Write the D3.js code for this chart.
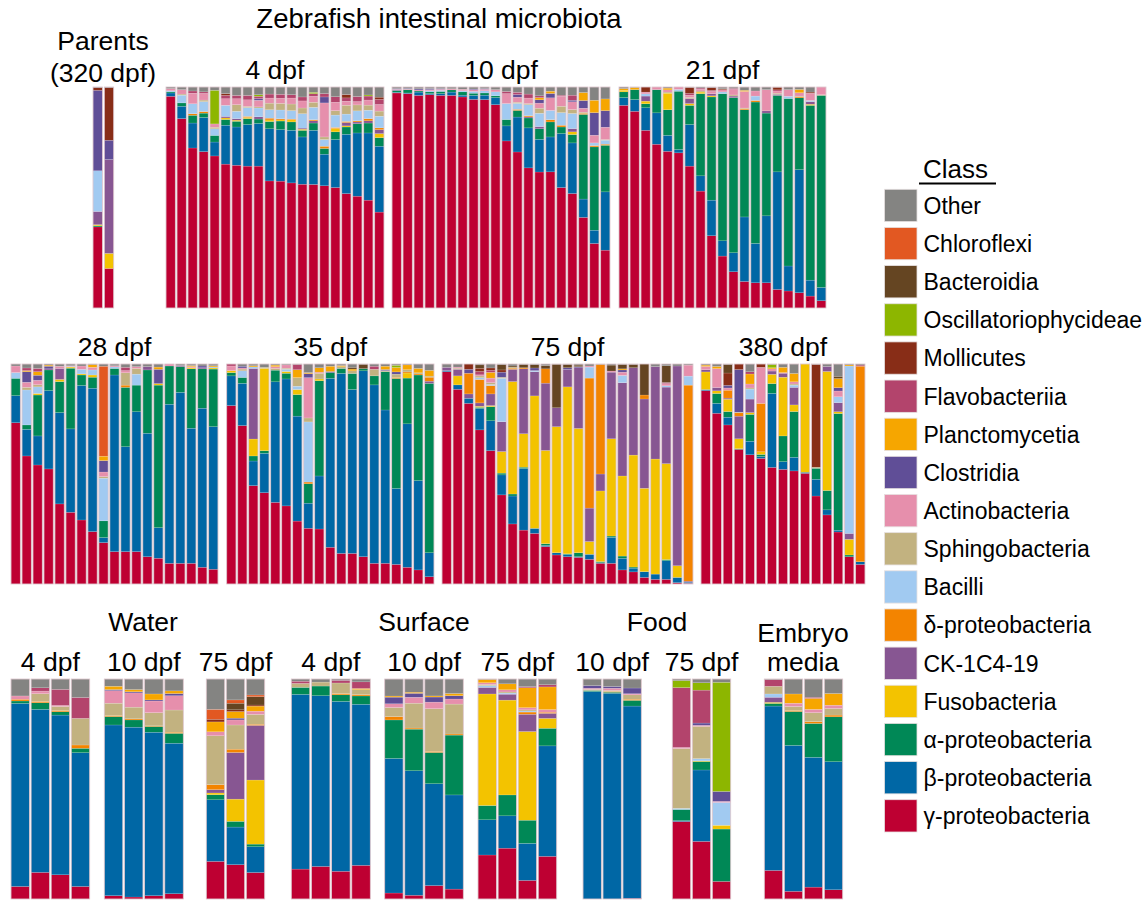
<!DOCTYPE html>
<html>
<head>
<meta charset="utf-8">
<script src="https://cdn.jsdelivr.net/npm/d3@7"></script>
<style>
  body { margin: 0; background: #fff; }
  text { font-family: Arial, "Liberation Sans", sans-serif; fill: #000; }
</style>
</head>
<body>
<svg id="chart" width="1146" height="900"></svg>
<script>
// Bacterial classes, stacked from the bottom of each bar upwards
const classes = ["γ-proteobacteria", "β-proteobacteria", "α-proteobacteria", "Fusobacteria",
  "CK-1C4-19", "δ-proteobacteria", "Bacilli", "Sphingobacteria", "Actinobacteria", "Clostridia",
  "Planctomycetia", "Flavobacteriia", "Mollicutes", "Oscillatoriophycideae", "Bacteroidia",
  "Chloroflexi", "Other"];
const classColors = ["#be0032", "#0067a5", "#008856", "#f3c300", "#875692", "#f38400", "#a1caf1",
  "#c2b280", "#e68fac", "#604e97", "#f6a600", "#b3446c", "#882d17", "#8db600", "#654522",
  "#e25822", "#848482"];

// Relative abundance (%) per sample, one row per bar, columns in class order
const parents = [
  [36.7,0,0.5,0.5,6,0,18.4,0,0,36.4,0,0,1.2,0,0,0,0.3],
  [17.9,0,0,6.8,42.5,0,0,0,0,8.7,0,0,23.8,0,0,0,0.3]
];
const gut4 = [
  [95.8,1.5,0.5,0,0,0,0.5,0,1,0,0,0,0,0,0,0,0.7],
  [85.7,5.6,1.5,0,0,0,3.5,0.5,2,0,0,0,0,0,0,0,1.2],
  [72.4,11.3,3.5,0,0,0.7,4.5,0,4.8,0,0,1,0,0,0,0,1.8],
  [70.6,15.4,2,0,0,0.7,4.5,0.7,3,0,0,0.7,0,0,0,0,2.2],
  [68.8,6.3,3,0,0,0,3,0.7,1.5,0,0,0,0,15.2,0,0,1.5],
  [65.1,17.6,2.6,0.7,0.7,0,5,0,3,0,0,1.5,0.8,0,0,0,3],
  [64.6,17.3,2.6,0.5,0.7,0,3.3,3,2.7,0,0,1.5,0,0,0,0,3.8],
  [64.2,18.8,2.7,0.5,0,0.5,4,0.5,3,0,0,2,0,0,0,0,3.8],
  [64.2,19.3,2,0,1,0,4,0.5,3,0.8,0,1,0,0.7,0,0,3.5],
  [57.5,23.6,3.3,0.7,0,0.8,3.8,3,2.3,0,0,1.8,0,0,0,0,3.2],
  [57.4,23.3,3.9,0.5,0,0.5,4,3,2.3,0,0,1.8,0,0,0,0,3.3],
  [56.6,23.8,3.8,1,0,0.3,3.8,3,2.7,0,0,1.5,0,0,0,0,3.5],
  [56,21.4,3,0.5,0.5,0,6.5,2.6,3.2,0,0,1.8,0,0,0,0,4.5],
  [55.9,24.5,3.3,0,1,0.5,5.6,2.3,2.7,0,0,1.2,0,0.6,0,0,2.4],
  [55.3,14.3,2.6,0,0,1,3,1.2,15.4,2.7,0,1.5,0,0,0,0,3],
  [54.5,21.7,3.5,1.5,0,0.5,5.6,2,3.8,0,0,2.5,0,0,0,0,4.4],
  [51.5,26.7,3.3,0.5,1.5,0.5,3.3,4,1.8,0,0,1.5,1.5,0,0,0,3.4],
  [50.6,28.6,4.2,0,0.8,0.5,4.5,2.7,1.5,0,0,2.3,0,0,0,0,4.3],
  [48.8,30.4,4.5,0,1,1,3.8,2.3,2.3,0,0,1.8,0,0.5,0,0,3.6],
  [43.4,29.8,3.9,1.8,1.8,0.8,5.3,2.3,3,0,0,2.3,1,0,0,0,4.6]
];
const gut10 = [
  [97.3,0.3,0.8,0,0.3,0,0,0,0.3,0.3,0,0,0,0,0,0,0.7],
  [97,0.3,1.5,0,0,0,0,0,0.3,0.3,0,0,0,0,0,0,0.6],
  [96.2,1.5,0.5,0,0,0,0,0,0.5,0.5,0,0,0,0,0,0,0.8],
  [96.5,0.5,0.8,0,0,0,0.5,0,0.5,0.5,0,0,0,0,0,0,0.7],
  [96.2,0.8,1,0,0,0,0.5,0,0.5,0.3,0,0,0,0,0,0,0.7],
  [96.2,1.5,1,0,0,0,0,0,0.5,0,0,0,0,0,0,0,0.8],
  [95.5,0.8,1.5,0,0,0,0.5,0,0.7,0,0,0,0,0,0,0,1],
  [94.4,1.8,1,0,0,0,0.8,0,0.8,0.3,0,0,0,0,0,0,0.9],
  [94.3,2,1,0,0,0,1,0,0.7,0.3,0,0,0,0,0,0,0.7],
  [92,3.2,0.8,0,0,0,1.8,0,1,0,0,0,0,0,0,0,1.2],
  [75.6,6.8,2.9,0,0,0,7.2,0,4.5,0,0,1,0,0,0,0,2],
  [70.6,15.8,3,0,0,0.5,2.7,0.5,2.3,1.2,0,1,0,0,0,0,2.4],
  [63.4,18.1,4.5,0,0.5,0.5,5,0.5,2.5,0,0,1.8,0,0,0,0,3.2],
  [61.6,14.8,4.8,0,1,0,6,2.3,2.3,1.5,1,0.8,0,0,0,0,4],
  [61.6,15.8,6.8,0,0,1,4.2,0,5.7,2,1,0,0,0,0,0,1.9],
  [54.5,24.4,3,0,0,0.8,5.7,2.9,4.5,0,0,0.5,0,0,0,0,3.7],
  [51.8,22.9,3.8,1.2,1.5,0,6.8,1.8,3.5,0.7,0,2.3,0,0,0,0,3.7],
  [41,8.3,38.3,0,0,0.5,0,0.5,1.8,3.5,3.6,0,0,0,0,0,2.5],
  [29.2,6,37.7,0,0,0.6,1.2,0,3.5,10.2,5.6,0,0,0,0,0,6],
  [26.2,26.4,21.1,0,0,0.5,1.8,0.3,5.6,7.5,5.3,0,0,0,0,0,5.4]
];
const gut21 = [
  [91.7,3.5,2.6,0.7,0,0,0,0,0,0,0.8,0,0,0,0,0,0.7],
  [89,5.3,4.5,0,0,0,0,0,0,0,1,0,0,0,0,0,0.2],
  [80.4,10.2,1.8,1.2,2.3,0,1,0,0.8,0,0,0,2.3,0,0,0,0],
  [74.1,14.2,10.5,0,0,0,0,0,1.2,0,0,0,0,0,0,0,0],
  [70.9,7.2,11.6,7.5,0,0,0,0.5,1,0,0.8,0,0,0,0,0,0.5],
  [70.2,1.5,26.4,0,0,0,0.8,0,1.1,0,0,0,0,0,0,0,0],
  [64.2,18.8,8.7,0.8,2.3,0,0,0.5,1,0,0,0.8,2.7,0,0,0,0.2],
  [52.9,6.9,37.2,0.7,0,0,0,0.5,0.8,0,0,0.5,0,0,0,0,0.5],
  [32.7,16.1,46.7,0.5,1,0,0,0,1,0,0,0.5,1.2,0,0,0,0.3],
  [23.5,6.9,66.6,0,0,0,0.8,0,1,0,0,0,0.4,0,0,0,0.8],
  [16.4,8.6,70.2,0,0.7,0,0,0.5,2.5,0,0,0.5,0,0,0,0,0.6],
  [12,29.2,48.5,0,0,0.5,0,0.3,7.5,0,0.5,0,0,0,0,0,1.5],
  [11.4,17.8,64,0,0,0.7,2,0,2.3,0,0,0,0,0,0,0,1.8],
  [11.4,30.3,46.5,0,1,0,0,0,9.6,0,0,0,0,0,0,0,1.2],
  [8.4,53.2,34.6,0,0.5,0,0,0.5,1,0,0,0.5,1.2,0,0,0,0.1],
  [7.7,11.3,75.8,0,0,0,1,0,3,0,0,0,0,0,0,0,1.2],
  [6.9,55.7,32.5,0,0,0.5,0,0.3,1.5,0,1.5,0,0,0,0,0,1.1],
  [5.4,7.2,79.1,0.5,1.2,0,0.5,0,3.3,0,0,0,0.5,0,0,0,2.3],
  [3.3,6,86.9,0,0,0,0,0.3,3.5,0,0,0,0,0,0,0,0]
];
const gut28 = [
  [73.3,12.3,7.9,0,0,0,2.6,0,3,0,0,0,0,0,0,0,0.9],
  [58.2,12.1,2,0,0,0,15.9,1.2,2.3,4.8,0.5,1.2,0,0,0,0,1.8],
  [54.1,13.2,18.6,0.7,0,0,3,1,2,2.3,1.6,1.5,0,0,0,0,2],
  [52.3,35.6,9.4,0,0.5,0,0,0,0,1.2,0.5,0,0,0,0,0,0.5],
  [36.4,41.5,14.1,1,5,0,0,0,1,0,0,0,0,0,0,0,1],
  [32.6,37.9,27.6,0.5,0,0,0.3,0,0.3,0,0,0,0,0,0,0,0.8],
  [29.1,61.1,4.8,0.5,0,0,2.1,0,1.5,0,0,0,0,0,0,0,0.9],
  [23.8,65.2,5,1,0,0,2.3,0,1.2,0,1.2,0,0,0,0,0,0.3],
  [18.8,2.3,7.6,0,0,0,19.4,0.7,2.1,5.2,2,0,0,0,0,40.9,1],
  [14.7,80.3,3,0,0,0,0.7,0,0.5,0,0,0,0,0,0,0,0.8],
  [14.7,47.7,27,0,0,1,0,5.6,1,0,0,1.5,0,0,0,0,1.5],
  [14.7,63.6,12.1,0,0,0,5,2.6,0.8,0,0,0,0,0,0,0,1.2],
  [12.4,56.1,28.8,0,1.5,0,0,0,0,0,0,0,0,0,0,0,1.2],
  [11.7,13.9,64.8,0.7,0,0,0,0,0,6.5,1,0,0,0,0,0,1.4],
  [9.4,72.3,17.4,0,0,0,0,0,0.9,0,0,0,0,0,0,0,0],
  [9.4,77.7,11.7,0,0.5,0,0,0,0,0,0,0,0,0,0,0,0.7],
  [9.4,61.4,27,0.5,0,0,0,0,0.5,0,0.5,0,0,0,0,0,0.7],
  [7.6,72.3,17.9,0,0.5,0,0,0,0,0.8,0,0,0,0,0,0,0.9],
  [6.7,64.8,26.2,0.5,0,0,0.5,0,0,0,0.5,0,0,0,0,0,0.8]
];
const gut35 = [
  [81.1,13.5,1.5,0.9,0,0,0,0,2.1,0,0,0.9,0,0,0,0,0],
  [72,19.2,2.7,0,0,0,3,0.8,0.5,0.8,0,0,0,0,0,0,1],
  [44.7,11.2,2.3,7.7,32.1,0,0.7,0,0,0,0.5,0,0,0,0,0,0.8],
  [41.5,17.9,1.2,37.4,0,0,0,0.5,0,0,0,0,0,0,0,0,1.5],
  [37.1,54.8,5.3,0,0,0,0,0.8,0.8,0,0.7,0,0,0,0,0,0.5],
  [35.5,57.7,2.6,0.8,0,0,1,0.5,1.5,0,0,0,0,0,0,0,0.4],
  [28.6,47.7,9.8,2.3,0,0,1.5,3.9,0,0,3.6,2.4,0,0,0,0,0.2],
  [25.3,11.4,8.8,0,0,0.8,27.3,1.8,18.3,1.8,0.5,0,0,0,0,0,3.9],
  [25,24.1,43.3,0.8,0,0,0,2.6,0.5,0,2,0,0,0,0,0,1.7],
  [16.7,76.8,2.6,0,0,0,0,0,0,0.5,2.4,0,0,0,0,0,1],
  [13.9,81.8,2.3,0,0,0,0,0.8,0,0,0.5,0,0,0,0,0,0.7],
  [13.9,74.5,7.3,0,0,0,0,1.2,0,0,0.8,0,0,0,0.8,0,1.5],
  [12.4,84.5,1,0,0,0,0,0,0,0,0,0,0,0,2,0,0.1],
  [9.4,81.1,4.1,0,0,0,0,3,0,0,0,1.4,0,0,0,0,1],
  [9.4,69.7,17.4,0,0,0,0,0.5,0,0.5,1.5,0,0,0,0,0,1],
  [8.9,34.5,50,0,0,0.5,0,1.5,0,1,2,0,0,1,0,0,0.6],
  [7.6,65.2,20.8,2.3,0,0.5,0,1,0,0,2.2,0,0,0,0,0,0.4],
  [6.4,40.6,48,0,0,0.5,0,0.5,0,0,2,0,0,0,0,0,2],
  [3.3,10.9,77,0,1,1.8,0,0.5,0,0,2.6,0,0,0,0,0,2.9]
];
const gut75 = [
  [96.5,0.5,0,0,1.5,0,0,0,0,0,0,0,0,0,0,0,1.5],
  [88.5,2,0,4.1,3,0,0,0.5,0.5,0,0,0,0,0,0,0,1.4],
  [82.1,2.3,0,0,2,9.4,0,0,0,1.8,0,0,2.4,0,0,0,0],
  [69.7,9.7,0.5,0.5,1.5,10.6,0.8,0.8,0.5,0,0,1.5,1.5,0,1.5,0,0.4],
  [60.6,13.6,6.4,0.5,5.3,3.8,0.5,0.8,2.1,0,2.6,1,1,0,0,0,1.8],
  [40.5,9.1,0.8,9.8,13.6,0,19.7,0.5,0,2.3,0,0,1,0,2.4,0,0.3],
  [27.3,12.7,0.9,51.1,5.6,0.5,0,0.5,0,0,0,0,0,0,0.5,0,0.9],
  [24.5,28,0.6,15.2,29.5,0.5,0,0,0,0,0,0,0,0,1.5,0,0.2],
  [23,2.3,0,60.2,11,0,0.5,0,0,1.2,0,0,0,0,1.5,0,0.3],
  [17,0.5,0.8,42.4,30.6,6.5,0,0,0,0,0,0,0,0,1.5,0,0.7],
  [13.2,1,0,57.3,8.6,0,0,0,0,0,0,0,0,0,19.8,0,0.1],
  [12.4,1,0.3,75.9,7.9,0,0,0,0,0.8,0,0,0,0,1.5,0,0.2],
  [12.1,0.3,1.8,56.5,27.6,0,0,0,0,0.5,0,0,0,0,0.7,0,0.5],
  [11.2,2.3,0,5.8,15.2,59.1,5,0,0.5,0,0,0,0,0,0,0,0.9],
  [9.4,0.3,0.5,32.1,7.7,49.8,0,0,0,0,0,0,0,0,0,0,0.2],
  [9.4,11.8,0.6,44.2,30.3,0,0,0,0.5,0,0,0,0,0,2.7,0,0.5],
  [6.4,5.3,1,36.4,42.4,0,3.3,0,1.5,1,0.5,0,0,0,2,0,0.2],
  [5.5,1.7,0.5,50.9,39.7,0,0,0,0,0,0,0,0,0,1.5,0,0.2],
  [3,2.6,0,37.9,40.6,1.8,0,0,0,0,0,0,0,0,14.1,0,0],
  [2.1,2.4,0,52.3,42,0,0,0,0,0,0,0,0,0,0,0,1.2],
  [2.1,8.5,0.5,43.6,34.8,0,0.6,0,1,0,0,0.5,0,0,7.6,0,0.8],
  [0.6,2.4,0,5.3,90.8,0,0,0,0,0,0,0,0,0,0,0,0.9],
  [0.3,0.5,0,0,0.5,89.1,4.1,0,5,0,0,0,0,0,0,0,0.5]
];
const gut380 = [
  [87.9,0.5,0,8,1,0,0,0,1.5,0,0.6,0,0,0,0,0,0.5],
  [77.6,4.5,4.5,1.2,1.5,0,0,0,8.6,0,1,0,0,0,0,0,1.1],
  [72.3,3.5,2.6,5.6,0.5,3.6,0,0,1,1.2,0,0,5.6,0,3.9,0,0.2],
  [61.2,0,0.3,4.5,10.3,1.5,0,0.3,0,19.4,0,0,2.5,0,0,0,0],
  [58.2,6.1,12.1,0.8,6.1,0,4.5,0.5,1.8,0,4.5,1,0,0,0,0,3.5],
  [57.1,0.8,1,1.2,0,22,0,0,16.4,0,0,0,1.5,0,0,0,0],
  [53,33.6,4.5,4.2,1.5,0,0,0,1,0,0.5,0,0,1.5,0,0,0.2],
  [52.1,3.5,11.7,26.7,1.8,0,0,0,0.3,0,2.4,0,0,0,0,0,1.5],
  [51.4,6.2,20.8,3,8,0,1,0.5,1,0,3.8,0,0,0,0,0,4.3],
  [50.3,0.5,0,49.2,0,0,0,0,0,0,0,0,0,0,0,0,0],
  [40,7.6,5,0,0,0,0,0.5,0,0,0,0,46.7,0,0,0,0.2],
  [31.4,2.3,8.8,54.1,2.3,0,0,0,0,0,0,0,0,0,0,0,1.1],
  [23.3,0.8,52.3,0.8,4.1,0,2.6,0,2.6,1.5,4.1,0,0,0,1,0,5.5],
  [12.4,0,0.8,7.1,2.7,0,76.1,0,0,0,0.5,0,0,0,0,0,0.4],
  [8.9,1.2,0,0,0,88.9,0,0,0,0,0,0.5,0,0,0,0,0.5]
];
const water4 = [
  [5.7,83.2,1.1,0,0,0.8,0,0,1.5,0,0,0,0,0,0,0,7.7],
  [12.1,74.1,3,0,0,0.6,0,3.5,1.2,0,0,1.5,0,0,0,0,4],
  [11,72.6,1.5,0,0,0.6,0,1.8,0.5,0,0,7.3,0,0,0,0,4.7],
  [5.7,60.8,2,0,0,1.5,0,12.1,0,0,0,9.5,0,0,0,0,8.4]
];
const water10 = [
  [1.5,77.6,3.8,0,0,0.5,0,5.6,5.7,0.5,1.5,0,0,0,0,0,3.3],
  [0.9,77.2,3.3,0,0,0.5,0,5.3,6.5,0.5,1,0,0,0,0,0,4.8],
  [1.5,74.3,2.6,0,0,0.3,0,6,5.3,0.5,2.7,0,0,0,0,0,6.8],
  [2.4,68.4,4.5,0,0,0.5,0,10.1,6.5,1,1.2,0,0,0,0,0,5.4]
];
const water75 = [
  [17.1,28,2.3,0.8,1.5,2.3,0,22.2,1.8,0,4.5,0,1.2,0,0,4.5,13.8],
  [15.6,17.1,2.6,10.1,21.2,1.5,0,11,2.3,0.8,3,0,0.8,0,3,1.5,9.5],
  [12.1,11.8,1.2,29.3,25,0.5,0,4.5,1.5,0,2.3,0,0.5,0,3.8,0.8,7.3]
];
const surface4 = [
  [13.6,79.4,3.2,0,0,0,0,1.8,0,0,0,1,0,0,0,0,1],
  [14.8,77.6,4.4,0,0,0,0,1.8,0,0,0,0,0,0,0,0,1.4],
  [12.6,77.2,3,0,0,0.6,0,4.8,0,0,0,1.2,0,0,0,0,0.6],
  [15.3,73.2,3.8,0,0,0.6,0,2.3,0,0,0.5,3,0,0,0,0,1.3]
];
const surface10 = [
  [2.7,60.8,17.4,0,0,1.5,0,4.1,1.7,3,0.5,0,0,0,0,0,7.7],
  [1.7,56.6,18.9,0,0,0.5,0,11.3,2.7,1.8,0.5,0,0,0,0,0,6],
  [6.1,46.3,14.2,0,0,0.5,0,19.4,3,2.3,0.5,0,0,0,0,0,7.7],
  [4.5,42.8,27.2,0,0,0.5,0,13.6,2.3,1.5,1,0,0,0,0,0,6.6]
];
const surface75 = [
  [20,16,6.5,50.7,3,0,0.8,0.5,0.8,0,1.5,0,0,0,0,0,0.2],
  [23.1,14.7,9.5,43.1,2.7,0,0.5,0.5,1,0,2.7,0,0,0,0,0,2.2],
  [8.5,16.9,10.6,40.5,7.9,1,0.5,0.5,1,0,9.1,0.5,0,0,0,0,3.5],
  [19.4,50.2,8,4.5,2.3,0.5,0,0,1.2,0,10.3,1,0,0,0,0,2.6]
];
const food10 = [
  [0,94.3,0.5,0,0,0,0,0.5,0.5,1.2,0,0,0,0,0,0,3],
  [0,93.5,0.5,0,0,0.3,0,0.5,1,0.8,0,0,0,0,0,0,3.4],
  [0.3,87.4,2.6,0,0,0.5,0,2,0.5,2.6,0,0,0,0,0,0,4.1]
];
const food75 = [
  [35.2,0.4,5.1,0,0,0,0.5,27.2,0.5,0,0,27.2,0,3.2,0,0,0.7],
  [25.9,32.1,3.8,0.3,0,0,1,14.5,0.5,1,0,14.8,0,3.3,0,0,1.7],
  [8,0,23.8,1.7,0,0,10.4,0,0.5,4.5,0,0,0,49.6,0,0,1.5]
];
const embryo = [
  [13,74.7,1.2,0.5,2.3,0,1.5,3.5,0,0,0,3,0,0,0,0,0.3],
  [3.5,66.3,15.4,0,0,0.5,0,1.8,1.5,0,4.2,0,0,0,0,0,6.8],
  [5.4,59,15.4,0,0,0.8,0,4.1,1.5,0,5,0.5,0,0,0,0,8.3],
  [4.2,58.2,20.4,0,0,0.8,0,3,1.5,0,5.3,0,0,0,0,0,6.6]
];

// Group and panel labels
const rowTitles = ["Zebrafish intestinal microbiota"];
const panelLabels = ["4 dpf", "10 dpf", "21 dpf", "28 dpf", "35 dpf", "75 dpf", "380 dpf"];
const envGroups = ["Water", "Surface", "Food"];
const envLabels = ["4 dpf", "10 dpf", "75 dpf", "4 dpf", "10 dpf", "75 dpf", "10 dpf", "75 dpf"];

// Panel placement: left edge of first bar, right edge of last bar, bar top/bottom
const ROW1 = { top: 87, bottom: 308 };
const ROW2 = { top: 364, bottom: 584 };
const ROW3 = { top: 679, bottom: 899 };
const panels = [
  { data: parents,   x0: 93,    x1: 113.7, row: ROW1, pad: 0.17 },
  { data: gut4,      x0: 166,   x1: 384,   row: ROW1, pad: 0.15, label: panelLabels[0] },
  { data: gut10,     x0: 392,   x1: 610,   row: ROW1, pad: 0.15, label: panelLabels[1] },
  { data: gut21,     x0: 619,   x1: 826,   row: ROW1, pad: 0.15, label: panelLabels[2] },
  { data: gut28,     x0: 11,    x1: 218,   row: ROW2, pad: 0.15, label: panelLabels[3] },
  { data: gut35,     x0: 226.7, x1: 434,   row: ROW2, pad: 0.15, label: panelLabels[4] },
  { data: gut75,     x0: 442,   x1: 693,   row: ROW2, pad: 0.15, label: panelLabels[5] },
  { data: gut380,    x0: 701,   x1: 865,   row: ROW2, pad: 0.15, label: panelLabels[6] },
  { data: water4,    x0: 11,    x1: 89.7,  row: ROW3, pad: 0.08, label: envLabels[0] },
  { data: water10,   x0: 104.3, x1: 183.3, row: ROW3, pad: 0.08, label: envLabels[1] },
  { data: water75,   x0: 206.3, x1: 264.7, row: ROW3, pad: 0.08, label: envLabels[2] },
  { data: surface4,  x0: 291.3, x1: 370.3, row: ROW3, pad: 0.08, label: envLabels[3] },
  { data: surface10, x0: 384.7, x1: 463.3, row: ROW3, pad: 0.08, label: envLabels[4] },
  { data: surface75, x0: 478,   x1: 556.7, row: ROW3, pad: 0.08, label: envLabels[5] },
  { data: food10,    x0: 583,   x1: 641.3, row: ROW3, pad: 0.08, label: envLabels[6] },
  { data: food75,    x0: 672.3, x1: 730.7, row: ROW3, pad: 0.08, label: envLabels[7] },
  { data: embryo,    x0: 764.3, x1: 842.7, row: ROW3, pad: 0.08 }
];

const LABEL_SIZE = 26.5;
const svg = d3.select("#chart");
const stack = d3.stack()
  .keys(d3.range(classes.length))
  .value((row, k) => row[k])
  .offset(d3.stackOffsetExpand);

panels.forEach(p => {
  const n = p.data.length;
  const step = (p.x1 - p.x0) / (n - p.pad);
  const x = d3.scaleBand()
    .domain(d3.range(n))
    .range([p.x0 - p.pad * step / 2, p.x1 + p.pad * step / 2])
    .paddingInner(p.pad)
    .paddingOuter(p.pad / 2);
  const y = d3.scaleLinear().domain([0, 1]).range([p.row.bottom, p.row.top]);
  const g = svg.append("g");
  const series = stack(p.data);

  g.selectAll("g.layer")
    .data(series)
    .join("g")
    .attr("class", "layer")
    .attr("fill", s => classColors[s.key])
    .selectAll("rect")
    .data(s => s.map((d, i) => ({ d, i })).filter(o => o.d[1] - o.d[0] > 0))
    .join("rect")
    .attr("x", o => x(o.i))
    .attr("width", x.bandwidth())
    .attr("y", o => y(o.d[1]))
    .attr("height", o => y(o.d[0]) - y(o.d[1]))
    .attr("stroke", "rgba(255,255,255,0.35)")
    .attr("stroke-width", 0.4);

  // thin light outline around each bar
  g.selectAll("rect.outline")
    .data(d3.range(n))
    .join("rect")
    .attr("class", "outline")
    .attr("x", i => x(i))
    .attr("width", x.bandwidth())
    .attr("y", y(1))
    .attr("height", y(0) - y(1))
    .attr("fill", "none")
    .attr("stroke", "#dcc3cb")
    .attr("stroke-width", 0.8);

  if (p.label) {
    const cx = (p.x0 + p.x1) / 2;
    svg.append("text")
      .attr("x", cx)
      .attr("y", p.row === ROW3 ? 671 : p.row.top - 8)
      .attr("text-anchor", "middle")
      .attr("font-size", LABEL_SIZE)
      .text(p.label);
  }
});

// Titles
svg.append("text").attr("x", 439).attr("y", 28).attr("text-anchor", "middle")
  .attr("font-size", 27.5).text(rowTitles[0]);
svg.append("text").attr("x", 103).attr("y", 50).attr("text-anchor", "middle")
  .attr("font-size", LABEL_SIZE).text("Parents");
svg.append("text").attr("x", 103).attr("y", 82).attr("text-anchor", "middle")
  .attr("font-size", LABEL_SIZE).text("(320 dpf)");

const groupCenters = [143, 424, 657];
envGroups.forEach((t, i) => {
  svg.append("text").attr("x", groupCenters[i]).attr("y", 631)
    .attr("text-anchor", "middle").attr("font-size", LABEL_SIZE).text(t);
});
svg.append("text").attr("x", 803).attr("y", 642).attr("text-anchor", "middle")
  .attr("font-size", LABEL_SIZE).text("Embryo");
svg.append("text").attr("x", 803).attr("y", 671).attr("text-anchor", "middle")
  .attr("font-size", LABEL_SIZE).text("media");

// Legend
const legend = svg.append("g");
legend.append("text").attr("x", 923).attr("y", 178).attr("font-size", 26).text("Class");
legend.append("line").attr("x1", 919).attr("x2", 996).attr("y1", 183.5).attr("y2", 183.5)
  .attr("stroke", "#000").attr("stroke-width", 2);
const legendOrder = d3.range(classes.length).reverse();
const ly = d3.scaleBand().domain(legendOrder).range([189.3, 189.3 + 38.15 * classes.length]);
legendOrder.forEach(k => {
  legend.append("rect")
    .attr("x", 884.5).attr("y", ly(k)).attr("width", 32.5).attr("height", 32.3)
    .attr("fill", classColors[k])
    .attr("stroke", "#e6e0e0").attr("stroke-width", 0.8);
  legend.append("text")
    .attr("x", 923.5).attr("y", ly(k) + 24.5)
    .attr("font-size", 23).text(classes[k]);
});
</script>
</body>
</html>
